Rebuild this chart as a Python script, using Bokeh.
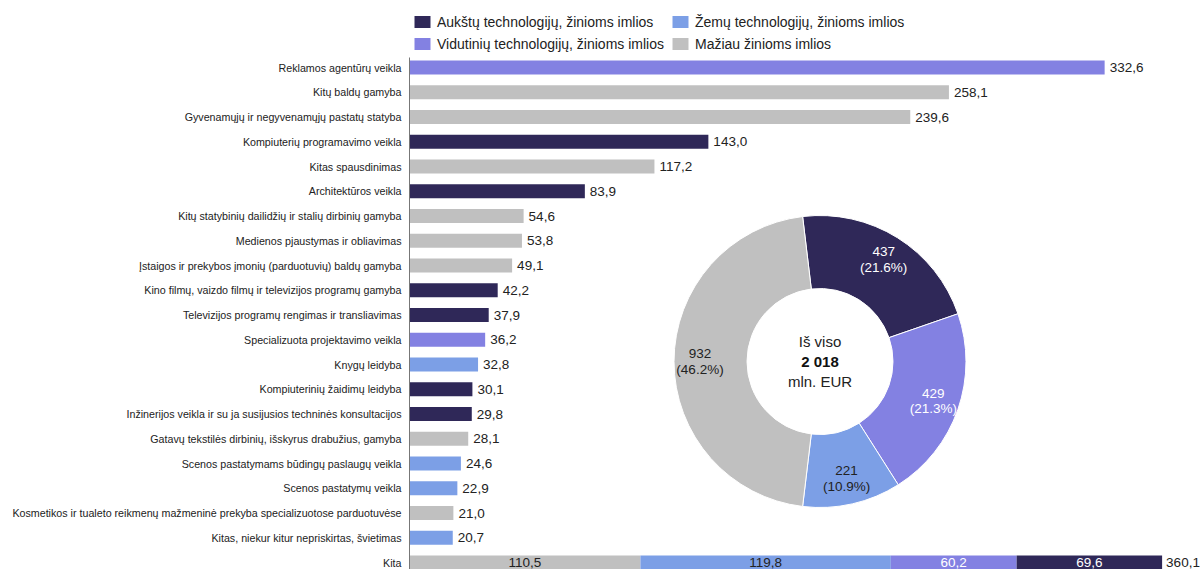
import math
from bokeh.plotting import figure
from bokeh.models import (ColumnDataSource, Range1d, FixedTicker, Legend, LegendItem)
from bokeh.core.properties import value
from bokeh.embed import file_html
from bokeh.resources import INLINE

# ---------------- data ----------------
categories = [
    "Reklamos agentūrų veikla",
    "Kitų baldų gamyba",
    "Gyvenamųjų ir negyvenamųjų pastatų statyba",
    "Kompiuterių programavimo veikla",
    "Kitas spausdinimas",
    "Architektūros veikla",
    "Kitų statybinių dailidžių ir stalių dirbinių gamyba",
    "Medienos pjaustymas ir obliavimas",
    "Įstaigos ir prekybos įmonių (parduotuvių) baldų gamyba",
    "Kino filmų, vaizdo filmų ir televizijos programų gamyba",
    "Televizijos programų rengimas ir transliavimas",
    "Specializuota projektavimo veikla",
    "Knygų leidyba",
    "Kompiuterinių žaidimų leidyba",
    "Inžinerijos veikla ir su ja susijusios techninės konsultacijos",
    "Gatavų tekstilės dirbinių, išskyrus drabužius, gamyba",
    "Scenos pastatymams būdingų paslaugų veikla",
    "Scenos pastatymų veikla",
    "Kosmetikos ir tualeto reikmenų mažmeninė prekyba specializuotose parduotuvėse",
    "Kitas, niekur kitur nepriskirtas, švietimas",
]
values = [332.6, 258.1, 239.6, 143.0, 117.2, 83.9, 54.6, 53.8, 49.1, 42.2,
          37.9, 36.2, 32.8, 30.1, 29.8, 28.1, 24.6, 22.9, 21.0, 20.7]
groups_of_bars = ["V", "M", "M", "A", "M", "A", "M", "M", "M", "A",
                  "A", "V", "Z", "A", "A", "M", "Z", "Z", "M", "Z"]

other_label = "Kita"
other_groups = ["M", "Z", "V", "A"]
other_values = [110.5, 119.8, 60.2, 69.6]
other_total = 360.1

group_keys = ["A", "Z", "V", "M"]
group_names = {
    "A": "Aukštų technologijų, žinioms imlios",
    "Z": "Žemų technologijų, žinioms imlios",
    "V": "Vidutinių technologijų, žinioms imlios",
    "M": "Mažiau žinioms imlios",
}
group_colors = {"A": "#2f2858", "V": "#8381e2", "Z": "#7c9fe6", "M": "#c0c0c0"}
group_text_colors = {"A": "white", "V": "white", "Z": "#222222", "M": "#222222"}

donut_groups = ["A", "V", "Z", "M"]
donut_values = [437, 429, 221, 932]
donut_pcts = [21.6, 21.3, 10.9, 46.2]
total_text = "2 018"

FONT = "Liberation Sans"

def fmt(v):
    return f"{v:.1f}".replace(".", ",")

# ---------------- figure ----------------
n_rows = len(categories) + 1
row_px = 24.75
top_px = 67.0
H, W = 569, 1200
left_border = 409
px_per_unit = 2.09
frame_w = W - left_border

y_top = -top_px / row_px
y_bot = (H - top_px) / row_px

p = figure(width=W, height=H, output_backend="svg", toolbar_location=None,
           x_range=Range1d(0, frame_w / px_per_unit),
           y_range=Range1d(y_bot, y_top),
           x_axis_location=None, min_border_left=left_border,
           min_border_right=0, min_border_top=0, min_border_bottom=0,
           outline_line_color=None, background_fill_color="white")
p.xgrid.visible = False
p.ygrid.visible = False

bar_h = 14 / row_px

renderers = {}
for g in group_keys:
    idx = [i for i, gg in enumerate(groups_of_bars) if gg == g]
    src = ColumnDataSource(dict(y=idx, right=[values[i] for i in idx]))
    r = p.hbar(y="y", left=0, right="right", height=bar_h, source=src,
               fill_color=group_colors[g], line_color=None)
    renderers[g] = r

# value labels
lab_src = ColumnDataSource(dict(x=values, y=list(range(len(values))),
                                t=[fmt(v) for v in values]))
p.text(x="x", y="y", text="t", source=lab_src, x_offset=5,
       text_align="left", text_baseline="middle", text_font=value(FONT),
       text_font_size="13.5px", text_color="#222222")

# stacked "Kita" row
kita_y = len(categories)
lefts, rights = [], []
acc = 0.0
for v in other_values:
    lefts.append(acc)
    acc += v
    rights.append(acc)
ksrc = ColumnDataSource(dict(
    y=[kita_y] * len(other_values), left=lefts, right=rights,
    color=[group_colors[g] for g in other_groups],
    tc=[group_text_colors[g] for g in other_groups],
    mid=[(l + r) / 2 for l, r in zip(lefts, rights)],
    t=[fmt(v) for v in other_values]))
p.hbar(y="y", left="left", right="right", height=bar_h, source=ksrc,
       fill_color="color", line_color=None)
p.text(x="mid", y="y", text="t", source=ksrc, text_align="center",
       text_baseline="middle", text_font=value(FONT), text_font_size="13.5px",
       text_color="tc")
p.text(x=[rights[-1]], y=[kita_y], text=[fmt(other_total)], x_offset=4,
       text_align="left", text_baseline="middle", text_font=value(FONT),
       text_font_size="13.5px", text_color="#222222")

# y axis
yax = p.yaxis[0]
yax.ticker = FixedTicker(ticks=list(range(n_rows)))
yax.major_label_overrides = {i: c for i, c in enumerate(categories + [other_label])}
yax.major_label_text_font = FONT
yax.major_label_text_font_size = "10.7px"
yax.major_label_text_color = "#222222"
yax.major_tick_line_color = None
yax.minor_tick_line_color = None
yax.major_label_standoff = 2
yax.axis_line_color = "#777777"
yax.bounds = (-0.42, n_rows)

# ---------------- donut ----------------
cx = (819.5 - left_border) / px_per_unit
cy = (361 - top_px) / row_px
r_in, r_out = 73, 146
half_last = donut_pcts[-1] / 100 * 360 / 2
start_cw = 270 + half_last - 360  # last slice centred at 9 o'clock
starts, ends, lx, ly, ltxt, lcol, wcol = [], [], [], [], [], [], []
acc = start_cw
for g, v, pc in zip(donut_groups, donut_values, donut_pcts):
    th1 = acc
    th2 = acc + pc / 100 * 360
    acc = th2
    starts.append(math.radians(90 - th2))
    ends.append(math.radians(90 - th1))
    mid = math.radians((th1 + th2) / 2)
    rl = 120
    lx.append(rl * math.sin(mid))
    ly.append(-rl * math.cos(mid))
    ltxt.append(f"{v}\n({pc}%)")
    lcol.append(group_text_colors[g])
    wcol.append(group_colors[g])
dsrc = ColumnDataSource(dict(x=[cx] * 4, y=[cy] * 4, s=starts, e=ends,
                             c=wcol, xo=lx, yo=ly, t=ltxt, tc=lcol))
p.annular_wedge(x="x", y="y", inner_radius=r_in, outer_radius=r_out,
                inner_radius_units="screen", outer_radius_units="screen",
                start_angle="s", end_angle="e", fill_color="c",
                line_color="white", line_width=1, source=dsrc)
p.text(x="x", y="y", text="t", x_offset="xo", y_offset="yo", source=dsrc,
       text_align="center", text_baseline="middle", text_font=value(FONT),
       text_font_size="13.5px", text_color="tc", text_line_height=1.05)

p.text(x=[cx], y=[cy], text=["Iš viso"], y_offset=-20, text_align="center",
       text_baseline="middle", text_font=value(FONT), text_font_size="15px",
       text_color="#222222")
p.text(x=[cx], y=[cy], text=[total_text], y_offset=0, text_align="center",
       text_baseline="middle", text_font=value(FONT), text_font_size="15px",
       text_font_style="bold", text_color="#111111")
p.text(x=[cx], y=[cy], text=["mln. EUR"], y_offset=20, text_align="center",
       text_baseline="middle", text_font=value(FONT), text_font_size="15px",
       text_color="#222222")

# ---------------- legend ----------------
items = [LegendItem(label=group_names[g], renderers=[renderers[g]])
         for g in ["A", "Z", "V", "M"]]
leg_pad = 6
leg_h = 2 * 15 + 6.5 + 2 * leg_pad
legend = Legend(items=items, location=(3, H - (9 - leg_pad) - leg_h),
                orientation="horizontal",
                ncols=2, margin=0, padding=leg_pad, spacing=6,
                glyph_width=20, glyph_height=15, label_height=15,
                label_width=211,
                label_standoff=5, label_text_font=FONT,
                label_text_font_size="14px", label_text_color="#222222",
                border_line_color=None, background_fill_alpha=0)
p.add_layout(legend)

open("out.html", "w").write(file_html(p, INLINE))
